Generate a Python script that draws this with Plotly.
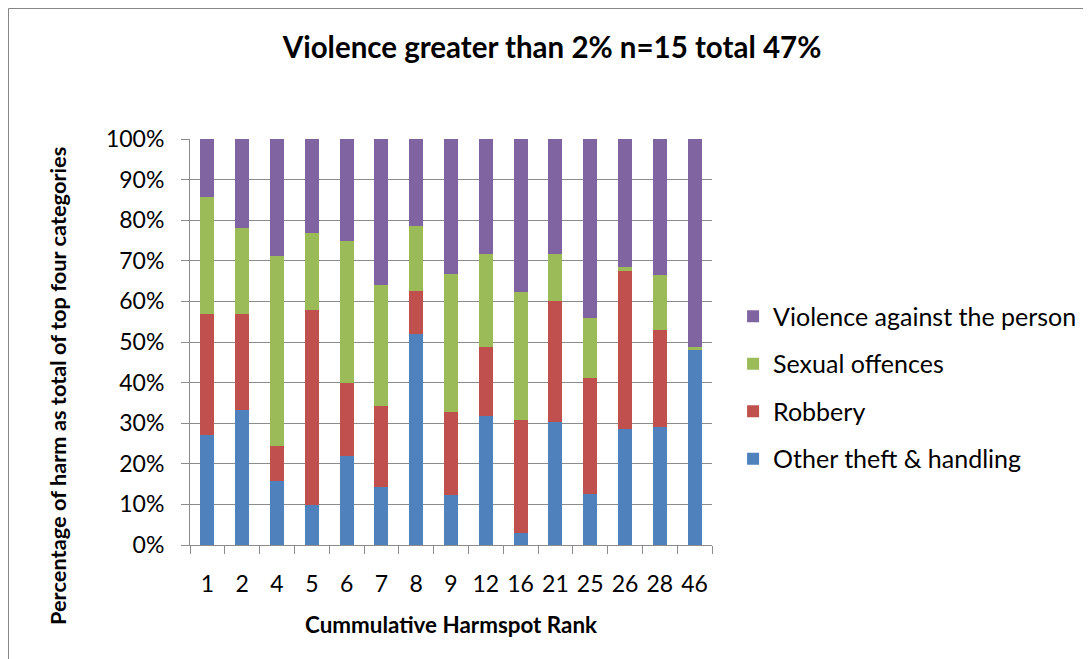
import plotly.graph_objects as go

ranks = ["1", "2", "4", "5", "6", "7", "8", "9", "12", "16", "21", "25", "26", "28", "46"]
other_theft = [27.0, 33.3, 15.8, 9.8, 21.9, 14.4, 52.0, 12.2, 31.7, 2.9, 30.3, 12.6, 28.5, 29.0, 48.0]
robbery = [30.0, 23.5, 8.7, 48.2, 18.1, 19.9, 10.6, 20.5, 17.0, 28.0, 29.9, 28.6, 39.1, 24.0, 0.0]
sexual = [28.6, 21.4, 46.7, 18.9, 34.8, 29.8, 15.9, 34.0, 22.9, 31.4, 11.5, 14.7, 0.9, 13.5, 0.7]
violence = [14.4, 21.8, 28.8, 23.1, 25.2, 35.9, 21.5, 33.3, 28.4, 37.7, 28.3, 44.1, 31.5, 33.5, 51.3]

series = [
    ("Other theft & handling", other_theft, "#4F81BD", 4),
    ("Robbery", robbery, "#C0504D", 3),
    ("Sexual offences", sexual, "#9BBB59", 2),
    ("Violence against the person", violence, "#8064A2", 1),
]

FONT = "Lato, 'Open Sans', sans-serif"
GRID = "#8C8C8C"

# the page body adds an 8px offset; plot area in window px: x 190..712, y 139..545
OFF = 8

fig = go.Figure()
for name, vals, col, rank in series:
    fig.add_trace(go.Bar(
        x=ranks, y=vals, name=name, legendgroup=name, legendrank=rank,
        marker=dict(color=col, line=dict(width=0)),
    ))

fig.update_layout(
    width=1091, height=659,
    barmode="stack", bargap=0.6,
    plot_bgcolor="white", paper_bgcolor="white",
    margin=dict(l=190 - OFF, r=1091 - (712 - OFF), t=139 - OFF, b=659 - (545 - OFF), autoexpand=False),
    font=dict(family=FONT, color="black"),
    title=dict(
        text="<b>Violence greater than 2% n=15 total 47%</b>",
        font=dict(size=29.5, family=FONT, color="black"),
        x=(552 - OFF) / 1091, xref="container", xanchor="center",
        y=1 - (48 - OFF) / 659, yref="container", yanchor="middle",
    ),
    legend=dict(
        x=1.0404, xanchor="left", y=0.388, yanchor="middle",
        font=dict(size=25, family=FONT),
        traceorder="grouped", tracegroupgap=12,
        bgcolor="rgba(0,0,0,0)",
    ),
    showlegend=True,
)

fig.update_xaxes(
    type="category", showgrid=False,
    showline=True, linecolor=GRID, linewidth=1,
    ticks="outside", tickson="boundaries", ticklen=8, tickcolor=GRID,
    tickfont=dict(size=23, family=FONT), tickangle=0,
    ticklabelstandoff=18,
)
fig.update_yaxes(
    range=[0, 100], dtick=10, ticksuffix="%",
    showgrid=True, gridcolor=GRID, gridwidth=1,
    showline=True, linecolor=GRID, linewidth=1,
    ticks="outside", ticklen=8, tickcolor=GRID,
    tickfont=dict(size=23, family=FONT),
    ticklabelstandoff=12, zeroline=False,
)

# axis titles
fig.add_annotation(
    text="<b>Cummulative Harmspot Rank</b>", showarrow=False,
    xref="paper", yref="paper", x=(451 - 190) / 522, y=-(624 - 545) / 406,
    xanchor="center", yanchor="middle", font=dict(size=22.4, family=FONT),
)
fig.add_annotation(
    text="<b>Percentage of harm as total of top four categories</b>", showarrow=False,
    textangle=-90,
    xref="paper", yref="paper", x=(57 - 190) / 522, y=(545 - 386) / 406,
    xanchor="center", yanchor="middle", font=dict(size=21.8, family=FONT),
)

# chart-area border (left/top edges at the figure's own edge)
fig.add_shape(
    type="rect", xref="paper", yref="paper",
    x0=(OFF + 0.5 - 190) / 522, x1=(1084 - 190) / 522,
    y0=(545 - 680) / 406, y1=(545 - (OFF + 0.5)) / 406,
    line=dict(color="#868686", width=1), fillcolor="rgba(0,0,0,0)", layer="below",
)

fig.write_html("out.html")
